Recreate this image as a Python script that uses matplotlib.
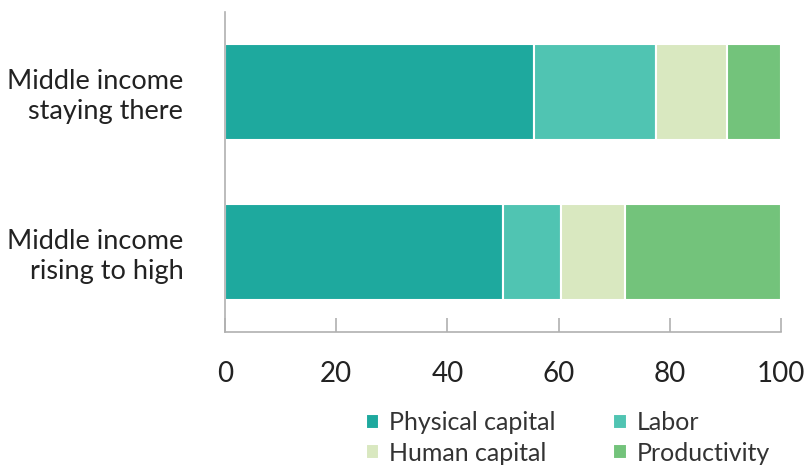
import matplotlib.pyplot as plt
import numpy as np

plt.rcParams['font.family'] = ['Lato', 'DejaVu Sans']

# data
groups = ['Middle income\nrising to high', 'Middle income\nstaying there']
components = ['Physical capital', 'Labor', 'Human capital', 'Productivity']
physical = [50.0, 55.6]
labor = [10.4, 21.9]
human = [11.5, 12.8]
productivity = [28.1, 9.7]
colors = ['#1ea99e', '#50c4b2', '#d9e8c0', '#73c37b']

series = [physical, labor, human, productivity]

fig = plt.figure(figsize=(8.08, 4.68), dpi=100)
ax = fig.add_axes([0.2785, 0.2906, 0.688, 0.6838])

ypos = np.arange(len(groups))
left = np.zeros(len(groups))
bars = []
for name, vals, c in zip(components, series, colors):
    b = ax.barh(ypos, vals, left=left, height=0.6, color=c,
                edgecolor='white', linewidth=1.5, label=name)
    bars.append(b)
    left = left + np.array(vals)

ax.set_xlim(0, 100)
ax.set_ylim(-0.5, 1.5)
ax.set_yticks(ypos)
ax.set_yticklabels(groups, fontsize=19.5, color='#222222', linespacing=1.25)
ax.set_xticks([0, 20, 40, 60, 80, 100])
ax.tick_params(axis='x', direction='in', length=10, width=1.2, color='#b0b0b0',
               labelsize=20, pad=21, labelcolor='#222222')
ax.tick_params(axis='y', length=0, pad=30)
for lbl in ax.get_yticklabels():
    lbl.set_horizontalalignment('right')

ax.spines['top'].set_visible(False)
ax.spines['right'].set_visible(False)
for s in ['left', 'bottom']:
    ax.spines[s].set_color('#b0b0b0')
    ax.spines[s].set_linewidth(1.2)

# legend fills column-wise, so reorder to get row-wise layout
order = [0, 2, 1, 3]
leg = fig.legend([bars[i] for i in order], [components[i] for i in order],
                 ncol=2, loc='center', bbox_to_anchor=(0.703, 0.064),
                 frameon=False, fontsize=18, handlelength=0.55, handleheight=0.55,
                 handletextpad=0.4, columnspacing=2.3, labelspacing=0.3)
for t in leg.get_texts():
    t.set_color('#333333')

fig.savefig('out.png', dpi=100)
